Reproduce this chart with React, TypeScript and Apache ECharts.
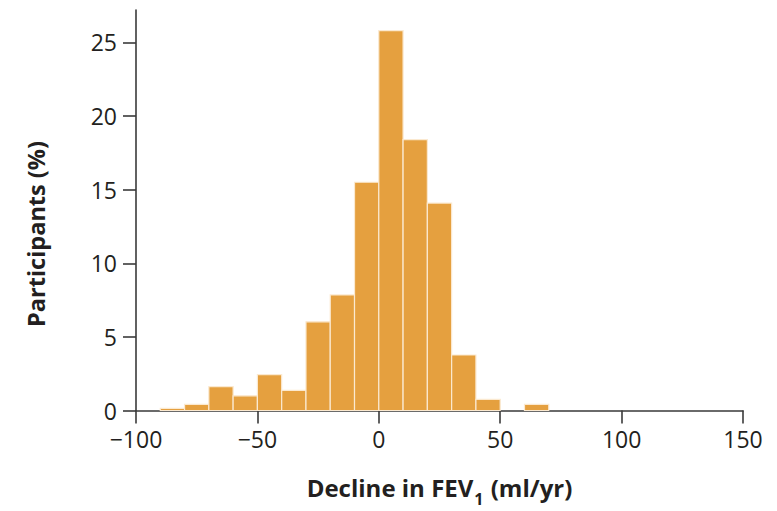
import React, { useEffect, useRef } from "react";
import * as echarts from "echarts";

const binStarts = [-90, -80, -70, -60, -50, -40, -30, -20, -10, 0, 10, 20, 30, 40, 50, 60];
const binWidth = 10;
const participantsPct = [0.15, 0.42, 1.62, 1.0, 2.43, 1.37, 6.02, 7.85, 15.5, 25.8, 18.39, 14.09, 3.77, 0.76, 0, 0.42];
const yTicks = [0, 5, 10, 15, 20, 25];
const xTicks = [-100, -50, 0, 50, 100, 150];
const yTitle = "Participants (%)";

const FONT = "'Open Sans', 'Noto Sans', sans-serif";
const TEXT = "#231f20";
const AXIS = "#3a3a3a";
const BAR = "#e5a03f";

export default function App() {
  const ref = useRef<HTMLDivElement>(null);
  useEffect(() => {
    if (!ref.current) return;
    const chart = echarts.init(ref.current, null, { renderer: "svg" });
    const data = binStarts.map((s, i) => [s, s + binWidth, participantsPct[i]]);
    chart.setOption({
      animation: false,
      grid: { left: 136, right: 34, top: 10, bottom: 100.5, containLabel: false, outerBoundsMode: "none" },
      graphic: [
        {
          type: "text",
          x: 36,
          y: 234,
          rotation: Math.PI / 2,
          style: {
            text: yTitle,
            fontSize: 23.5,
            fontWeight: "bold",
            fontFamily: FONT,
            fill: TEXT,
            align: "center",
            verticalAlign: "middle",
          },
        },
      ],
      xAxis: {
        type: "value",
        min: -100,
        max: 150,
        interval: 50,
        splitLine: { show: false },
        axisLine: { show: true, onZero: false, lineStyle: { color: AXIS, width: 1.6 } },
        axisTick: { show: true, length: 13, lineStyle: { color: AXIS, width: 1.6 } },
        axisLabel: {
          margin: 17,
          fontSize: 23,
          fontFamily: FONT,
          color: TEXT,
          customValues: xTicks,
          formatter: (v: number) => (v < 0 ? "\u2212" + Math.abs(v) : String(v)),
        },
        name: "{a|Decline in FEV}{s|1}{a| (ml/yr)}",
        nameLocation: "middle",
        nameGap: 65,
        nameTextStyle: {
          rich: {
            a: { fontSize: 24, fontWeight: "bold", fontFamily: FONT, color: TEXT, lineHeight: 24, verticalAlign: "bottom" },
            s: { fontSize: 16, fontWeight: "bold", fontFamily: FONT, color: TEXT, lineHeight: 24, verticalAlign: "bottom", padding: [0, 1, -7, 1] },
          },
        },
      },
      yAxis: {
        type: "value",
        min: 0,
        max: 27.2,
        splitLine: { show: false },
        axisLine: { show: true, onZero: false, lineStyle: { color: AXIS, width: 1.6 } },
        axisTick: { show: true, length: 13, customValues: yTicks, lineStyle: { color: AXIS, width: 1.6 } },
        axisLabel: {
          margin: 19,
          fontSize: 23,
          fontFamily: FONT,
          color: TEXT,
          customValues: yTicks,
        },
      },
      series: [
        {
          type: "custom",
          data,
          encode: { x: [0, 1], y: 2 },
          renderItem: (params: any, api: any) => {
            const x0 = api.value(0);
            const x1 = api.value(1);
            const y = api.value(2);
            if (!y) return null;
            const p0 = api.coord([x0, 0]);
            const p1 = api.coord([x1, y]);
            return {
              type: "rect",
              shape: { x: p0[0], y: p1[1], width: p1[0] - p0[0], height: p0[1] - p1[1] },
              style: { fill: BAR, stroke: "#fbe9d0", lineWidth: 1.2 },
            };
          },
        },
      ],
    });
    return () => chart.dispose();
  }, []);
  return <div ref={ref} style={{ width: 777, height: 511, position: "absolute", left: 0, top: 0 }} />;
}
